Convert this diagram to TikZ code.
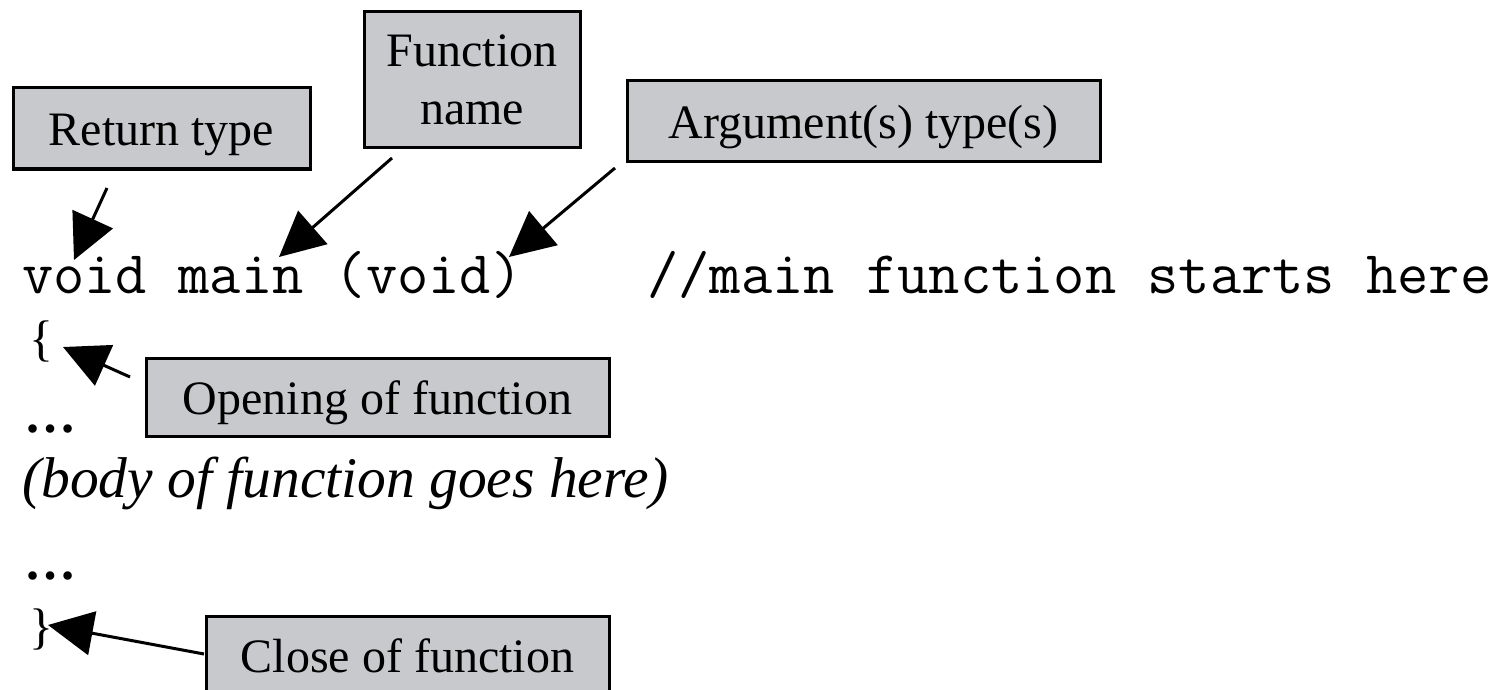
\documentclass[tikz,border=0pt]{standalone}
\usepackage{fontspec}
\setmainfont{Liberation Serif}
\usetikzlibrary{arrows.meta}
\definecolor{boxgray}{RGB}{200,201,204}
\tikzset{
  label box/.style={draw=black, line width=3pt, fill=boxgray, inner sep=0pt,
    font=\fontsize{48}{58}\selectfont, text height=40pt, text depth=5pt},
  name box/.style={label box, text height=, text depth=, align=center},
  pointer/.style={line width=3pt, -{Triangle[length=45pt,width=44pt]}},
  code/.style={font=\ttfamily\fontsize{60.7}{66}\selectfont, anchor=base west, inner sep=0pt},
  prose/.style={font=\fontsize{50}{58}\selectfont, anchor=base west, inner sep=0pt},
  dots/.style={prose, font=\bfseries\fontsize{52}{58}\selectfont},
}
\begin{document}
\begin{tikzpicture}[x=1pt,y=-1pt]
\useasboundingbox (0,0) rectangle (1494,690);
\clip (0,0) rectangle (1494,690);

% callout boxes
\node[label box, minimum width=297pt, minimum height=81pt] (ret) at (161.5,128.5) {Return type};
\node[name box, minimum width=216pt, minimum height=136pt] (fname) at (472,80) {Function\\name};
\node[label box, minimum width=473pt, minimum height=81pt] (args) at (863.5,121.5) {Argument(s) type(s)};
\node[label box, minimum width=463pt, minimum height=78pt] (opening) at (377.5,397) {Opening of function};
\node[label box, minimum width=403pt, minimum height=77pt] (closing) at (407.5,654.5) {Close of function};

% the code listing
\node[code] (sig) at (22,293) {void main (void)\ \ \ \ //main function starts here};
\node[prose] (lbrace) at (29,355) {\{};
\node[dots] (dotsA) at (24,432) {…};
\node[prose, font=\itshape\fontsize{57.5}{62}\selectfont] (body) at (22,497) {(body of function goes here)};
\node[dots] (dotsB) at (24,579) {…};
\node[prose] (rbrace) at (29,643) {\}};

% arrow ends
\coordinate (retT) at (107,188);  \coordinate (retH) at (74,260);
\coordinate (fnT)  at (392,158);  \coordinate (fnH)  at (279,257);
\coordinate (argT) at (615,168);  \coordinate (argH) at (509,257);
\coordinate (opT)  at (130,377);  \coordinate (opH)  at (63,347);
\coordinate (clT)  at (204,654);  \coordinate (clH)  at (48,625);

\draw[pointer] (retT) -- (retH);
\draw[pointer] (fnT) -- (fnH);
\draw[pointer] (argT) -- (argH);
\draw[pointer] (opT) -- (opH);
\draw[pointer] (clT) -- (clH);
\end{tikzpicture}
\end{document}
